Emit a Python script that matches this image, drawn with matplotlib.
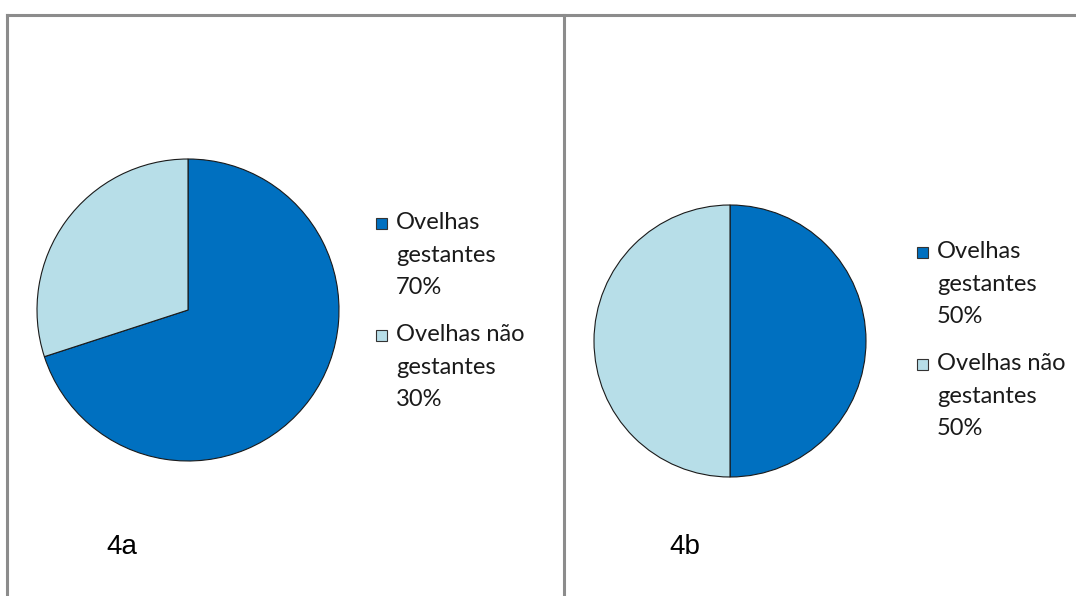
import matplotlib
matplotlib.use('Agg')
import matplotlib.pyplot as plt
from matplotlib.lines import Line2D
from matplotlib.patches import Rectangle

# two pies: pregnancy status of the ewes, panels 4a and 4b
categories = ['Ovelhas\ngestantes', 'Ovelhas não\ngestantes']
values_4a = [70, 30]
values_4b = [50, 50]
panel_names = ['4a', '4b']
colors = ['#0070C0', '#B7DEE8']

W, H = 1076, 596
fig = plt.figure(figsize=(W / 100, H / 100), dpi=100)
fig.patch.set_facecolor('white')

def px_box(x, y, w, h):
    # pixel box (top-left origin) -> figure fraction
    return [x / W, (H - y - h) / H, w / W, h / H]

def draw_panel(values, pie_box, leg_x, leg_y, name_xy):
    ax = fig.add_axes(px_box(*pie_box))
    ax.pie(values, colors=colors, startangle=90, counterclock=False,
           radius=1, wedgeprops=dict(edgecolor='#1a1a1a', linewidth=0.8))
    ax.set_xlim(-1, 1)
    ax.set_ylim(-1, 1)
    ax.set_aspect('equal')
    ax.axis('off')

    # hand-made legend: square + three text lines per entry
    y = leg_y
    for cat, val, col in zip(categories, values, colors):
        fig.add_artist(Rectangle((leg_x / W, (H - y - 12) / H), 11 / W, 11 / H,
                                 facecolor=col, edgecolor='#333333', lw=0.8,
                                 transform=fig.transFigure))
        fig.text((leg_x + 20) / W, (H - y + 5) / H, f'{cat}\n{val}%',
                 fontsize=17, family='Lato', color='#1a1a1a',
                 va='top', ha='left', linespacing=1.68,
                 transform=fig.transFigure)
        y += 112

    fig.text(name_xy[0] / W, (H - name_xy[1]) / H, name_xy[2], fontsize=20,
             family='Liberation Sans', va='center', ha='left')

draw_panel(values_4a, (37, 159, 302, 302), 376, 217, (106, 547, panel_names[0]))
draw_panel(values_4b, (594, 205, 272, 272), 917, 246, (669, 547, panel_names[1]))

# panel frame lines
grey = '#8C8C8C'
for xs, ys in [([7, 1076], [15, 15]), ([7, 7], [15, 596]), ([564, 564], [15, 596])]:
    fig.add_artist(Line2D([x / W for x in xs], [(H - y) / H for y in ys],
                          color=grey, lw=2.2, transform=fig.transFigure))

fig.savefig('out.png', dpi=100, facecolor='white')
